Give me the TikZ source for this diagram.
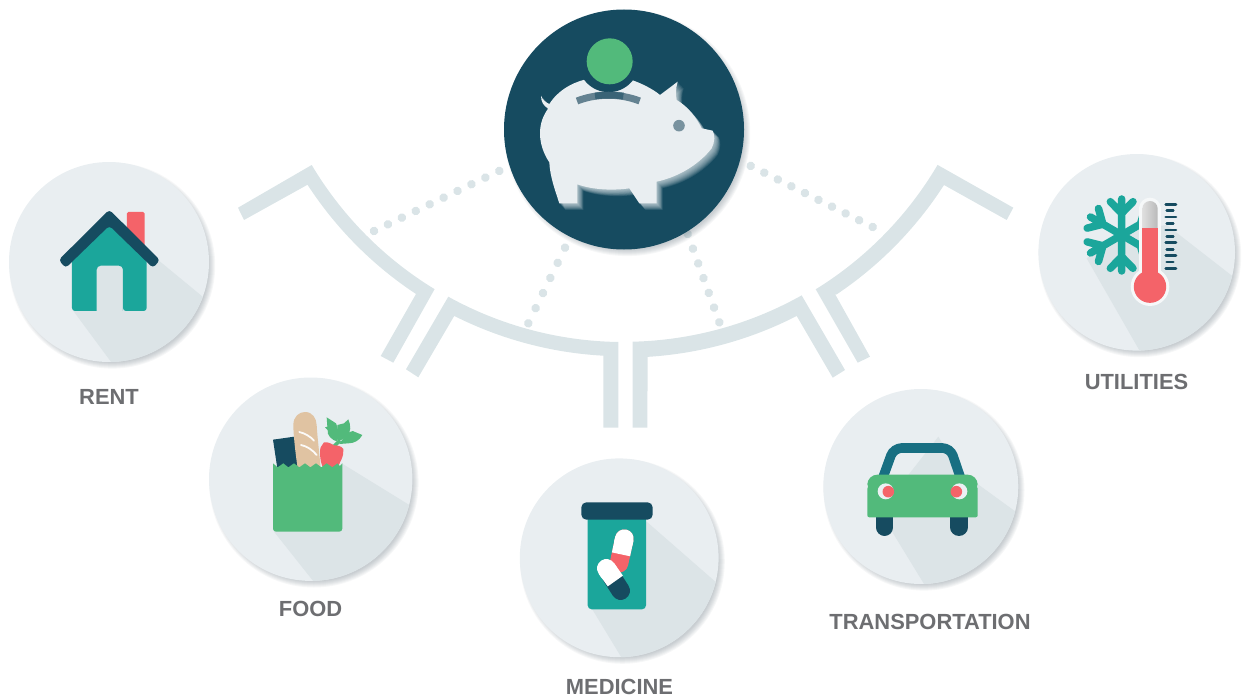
\documentclass[tikz,border=0pt]{standalone}
\usepackage{fontspec}
\setmainfont{Liberation Sans}
\definecolor{navy}{HTML}{164B60}
\definecolor{teal2}{HTML}{1BA69B}
\definecolor{coral}{HTML}{F46369}
\definecolor{leaf}{HTML}{52BA7B}
\definecolor{bread}{HTML}{E0C3A2}
\definecolor{disc}{HTML}{E9EEF1}
\definecolor{longshade}{HTML}{DCE4E7}
\definecolor{bracket}{HTML}{DAE4E7}
\definecolor{carroof}{HTML}{186F82}
\definecolor{labelgray}{HTML}{6D6E71}
\definecolor{shadowcol}{HTML}{5A6A75}
\definecolor{slotcol}{HTML}{648291}
\tikzset{
  disc node/.style={circle,fill=disc,inner sep=0pt,outer sep=0pt,minimum size=#1},
  caption/.style={font=\fontsize{21.9}{24}\selectfont\bfseries,text=labelgray,inner sep=0pt},
  bracket shape/.style={fill=bracket},
  dotline/.style={draw=bracket,line width=8.6pt,line cap=round,dash pattern=on 0.01pt off #1pt},
  zoomed/.style={x=0.33333pt,y=-0.33333pt},
  pig shape/.style={fill=disc}
}
\newcommand{\softshadow}[3]{%
  \foreach \d in {3,2,1,0,-1,-2,-3}{%
    \fill[shadowcol,opacity=.055] (#1+3.2,#2+3.6) circle[radius={(#3+\d)*1pt}];}}
\newcommand{\pigpath}{%
  (145,325) .. controls (130,318) and (123,305) .. (123,287)
  .. controls (128,300) and (138,308) .. (148,312)
  .. controls (175,270) and (215,250) .. (250,240) -- (395,240)
  .. controls (425,250) and (460,268) .. (480,285) -- (533,245)
  .. controls (527,265) and (527,285) .. (530,300)
  .. controls (565,320) and (590,355) .. (605,385) -- (638,392)
  .. controls (645,405) and (645,425) .. (635,445)
  .. controls (600,490) and (540,530) .. (470,545) -- (470,610) -- (418,610) -- (388,565)
  .. controls (340,572) and (280,570) .. (232,553) -- (232,610) -- (178,610)
  .. controls (165,570) and (150,530) .. (148,487)
  .. controls (130,460) and (120,430) .. (120,400)
  .. controls (120,370) and (130,345) .. (145,325) -- cycle}
\begin{document}
\begin{tikzpicture}[x=1pt,y=-1pt]
\useasboundingbox (0,0) rectangle (1242,698);

% brackets
\fill[bracket shape] (238,207.7) -- (311.7,165) arc[start angle=210.78,end angle=238.63,radius=363pt]
  -- (393.3,362.7) -- (380.7,356) -- (416,294) arc[start angle=236.56,end angle=213.04,radius=377.7pt] -- (244,220) -- cycle;
\fill[bracket shape] (406,369.3) -- (448.3,296.7) arc[start angle=241.06,end angle=269.1,radius=363pt]
  -- (618.3,427.7) -- (603.3,427.7) -- (603.3,355.7) arc[start angle=266.85,end angle=243.28,radius=377.7pt] -- (418.3,377.3) -- cycle;
\fill[bracket shape] (632.7,427.7) -- (632.7,341.7) arc[start angle=271.37,end angle=299.3,radius=363pt]
  -- (845,370) -- (832.7,377.7) -- (796.7,316) arc[start angle=297.13,end angle=273.54,radius=378pt] -- (647.3,427.7) -- cycle;
\fill[bracket shape] (870,356.7) -- (857.7,362.7) -- (815.7,289.3) arc[start angle=301.7,end angle=329.46,radius=363pt]
  -- (1013.3,207.7) -- (1006.7,220) -- (944,185) arc[start angle=327.23,end angle=303.8,radius=378pt] -- (835,294) -- cycle;

% dotted links
\coordinate (dota) at (374,231);
\coordinate (dotaend) at (499.5,170.8);
\coordinate (dotb) at (528.3,323.3);
\coordinate (dotbend) at (565.2,247.3);
\coordinate (dotc) at (719.3,322.3);
\coordinate (dotcend) at (687.5,233.5);
\coordinate (dotd) at (872.7,227);
\coordinate (dotdend) at (750.5,165.8);
\draw[dotline=15.43] (dota) -- (dotaend);
\draw[dotline=16.8] (dotb) -- (dotbend);
\draw[dotline=15.63] (dotc) -- (dotcend);
\draw[dotline=15.15] (dotd) -- (dotdend);

% ---------- piggy bank
\softshadow{624}{129.5}{120}
\node[circle,fill=navy,inner sep=0pt,outer sep=0pt,minimum size=240pt] (bank) at (624,129.5) {};
\begin{scope}[zoomed,xshift=500pt]
  \foreach \k in {10,9,8,7,6,5,4,3,2,1}{
    \begin{scope}[xshift=\k*0.6pt,yshift=-\k*0.65pt]
      \fill[disc,opacity=.11] \pigpath;
    \end{scope}}
  \fill[pig shape] \pigpath;
  \fill[navy] (326,185) circle[radius=30.5pt];
  \draw[slotcol,line width=7pt] (231,303) .. controls (290,280) and (360,280) .. (419,303);
  \draw[navy,opacity=.55,line width=7pt] (285,288) .. controls (310,284) and (345,284) .. (370,288);
  \fill[leaf] (329,184) circle[radius=23pt];
  \fill[slotcol!85!disc] (537,377) circle[radius=5.8pt];
\end{scope}

% ---------- rent
\softshadow{109}{262}{100}
\node[disc node=200pt] (rent) at (109,262) {};
\begin{scope}
  \clip (109,262) circle[radius=100pt];
  \begin{scope}[zoomed,yshift=-155pt]
    \fill[longshade] (218,465) -- (340,630) -- (660,630) -- (660,468) -- (478,318) -- (328,200) -- cycle;
  \end{scope}
\end{scope}
\begin{scope}[zoomed,yshift=-155pt]
  \fill[coral,rounded corners=1.5pt] (381,290) -- (381,171) -- (434,171) -- (434,290) -- cycle;
  \fill[teal2,rounded corners=3pt] (216,300) -- (328,195) -- (440,300) -- (440,468) -- (369,468) [sharp corners] -- (369,468) [rounded corners=4pt] -- (369,332) -- (290,332) [sharp corners] -- (290,468) -- (290,468) [rounded corners=3pt] -- (216,468) -- cycle;
  \fill[navy,rounded corners=3.5pt] (176,315) -- (328,164) -- (480,315) -- (459,339) -- (328,212) -- (197,339) -- cycle;
\end{scope}
\node[caption] (rentlabel) at (109,396.5) {RENT};

% ---------- food
\softshadow{310.7}{479.2}{101.7}
\node[disc node=203.4pt] (food) at (310.7,479.2) {};
\begin{scope}
  \clip (310.7,479.2) circle[radius=101.7pt];
  \begin{scope}[zoomed,xshift=200pt,yshift=-370pt]
    \fill[longshade] (222,485) -- (345,640) -- (680,640) -- (680,437) -- (425,280) -- cycle;
  \end{scope}
\end{scope}
\begin{scope}[zoomed,xshift=200pt,yshift=-370pt]
  \fill[navy] (219,209) -- (283,200) -- (300,295) -- (232,295) -- cycle;
  \fill[bread] (293,295) .. controls (285,240) and (280,190) .. (280,165) .. controls (280,140) and (297,126) .. (315,126)
     .. controls (338,126) and (349,145) .. (350,165) .. controls (352,200) and (358,250) .. (362,295) -- cycle;
  \draw[white!92!bread,line width=1.8pt,line cap=round] (298,186) .. controls (315,190) and (332,200) .. (342,212);
  \draw[white!92!bread,line width=1.8pt,line cap=round] (303,225) .. controls (320,228) and (338,240) .. (350,255);
  \draw[leaf,line width=3.5pt] (395,235) -- (420,212);
  \fill[leaf] (380,142) -- (408,160) .. controls (415,175) and (418,190) .. (412,215) .. controls (395,210) and (380,195) .. (383,180) -- (375,172) -- (382,170) -- cycle;
  \fill[leaf] (412,165) -- (432,160) -- (445,148) .. controls (452,165) and (455,185) .. (440,200) -- (415,215) -- cycle;
  \fill[leaf] (440,190) -- (458,183) -- (487,195) .. controls (478,212) and (462,220) .. (445,220) -- (418,222) -- cycle;
  \fill[coral] (372,217) .. controls (385,215) and (395,222) .. (402,226) .. controls (412,226) and (425,228) .. (430,237)
     .. controls (433,255) and (420,280) .. (410,295) -- (370,295) .. controls (362,280) and (357,250) .. (362,232) -- cycle;
  \fill[leaf] (219,280) -- (233,292) -- (250,280) -- (265,292) -- (282,280) -- (298,292) -- (315,280) -- (331,292) -- (348,280) -- (364,292) -- (380,280) -- (397,292) -- (412,280) -- (420,288) -- (427,280)
     [rounded corners=3pt] -- (427,485) -- (219,485) [sharp corners] -- cycle;
\end{scope}
\node[caption] (foodlabel) at (310.5,608.5) {FOOD};

% ---------- medicine
\softshadow{619.2}{557.8}{99.4}
\node[disc node=198.8pt] (medicine) at (619.2,557.8) {};
\begin{scope}
  \clip (619.2,557.8) circle[radius=99.4pt];
  \begin{scope}[zoomed,xshift=510pt,yshift=-450pt]
    \fill[longshade] (245,475) -- (345,640) -- (680,640) -- (680,451) -- (410,215) -- cycle;
  \end{scope}
\end{scope}
\begin{scope}[zoomed,xshift=510pt,yshift=-450pt]
  \fill[teal2,rounded corners=4pt] (233,190) rectangle (408,478);
  \fill[navy,rounded corners=5pt] (214,157) rectangle (428,209);
  \draw[coral,line width=18.6pt,line cap=round] (343,266) -- (327,340);
  \draw[white,line width=18.6pt] (343,266) -- (333,313);
  \draw[white,line width=18.6pt,line cap=round] (343,266) -- (340,280);
  \draw[navy,line width=18.6pt,line cap=round] (332,422) -- (305,380);
  \draw[white,line width=18.6pt] (289,355) -- (316,393);
  \draw[white,line width=18.6pt,line cap=round] (289,355) -- (297,367);
\end{scope}
\node[caption] (medicinelabel) at (619.5,686.5) {MEDICINE};

% ---------- transportation
\softshadow{920.8}{486.5}{97.5}
\node[disc node=195pt] (transport) at (920.8,486.5) {};
\begin{scope}
  \clip (920.8,486.5) circle[radius=97.5pt];
  \begin{scope}[zoomed,xshift=815pt,yshift=-380pt]
    \fill[longshade] (222,440) -- (335,625) -- (650,625) -- (650,430) -- (485,310) -- (440,285) -- (370,170) -- (280,285) -- cycle;
  \end{scope}
\end{scope}
\begin{scope}[zoomed,xshift=815pt,yshift=-380pt]
  \draw[carroof,line width=9.6pt,rounded corners=8pt] (204,292) -- (236,204) -- (406,204) -- (436,292);
  \draw[navy,line width=17.3pt,line cap=round] (209,400) -- (209,442);
  \draw[navy,line width=17.3pt,line cap=round] (432,400) -- (432,442);
  \fill[leaf,rounded corners=10pt] (157,340) -- (157,284) -- (488,284) -- (488,340) -- cycle;
  \fill[leaf,rounded corners=2pt] (157,320) rectangle (488,412);
  \fill[disc!90!white] (212,334) circle[radius=8pt];
  \fill[disc!90!white] (433,334) circle[radius=8pt];
  \fill[coral] (220,335) circle[radius=5.8pt];
  \fill[coral] (424,335) circle[radius=5.8pt];
\end{scope}
\node[caption] (transportlabel) at (930,621.5) {TRANSPORTATION};

% ---------- utilities
\softshadow{1136.7}{252.3}{98.3}
\node[disc node=196.6pt] (utilities) at (1136.7,252.3) {};
\begin{scope}
  \clip (1136.7,252.3) circle[radius=98.3pt];
  \begin{scope}[zoomed,xshift=1030pt,yshift=-145pt]
    \fill[longshade] (170,340) -- (335,628) -- (680,628) -- (680,450) -- (410,240) -- (270,260) -- cycle;
  \end{scope}
\end{scope}
\begin{scope}[zoomed,xshift=1030pt,yshift=-145pt]
  \foreach \a in {0,60,120,180,240,300}{
    \begin{scope}[shift={(275,270)},rotate=\a]
      \draw[teal2,line width=7.5pt,line cap=round,line join=round] (0,0) -- (0,-108) (0,-65) -- (-34,-100) (0,-65) -- (34,-100);
    \end{scope}}
  \draw[white!60!disc,line width=21.3pt,line cap=round] (360,190) -- (360,425);
  \fill[white!60!disc] (360,425) circle[radius=19.3pt];
  \shade[left color=gray!25,right color=gray!55] (337,250) -- (337,191) arc[start angle=180,end angle=0,radius=7.67pt] -- (383,250) -- cycle;
  \fill[coral] (337,250) rectangle (383,400);
  \fill[coral] (360,425) circle[radius=16.2pt];
  \foreach \y in {178,216,255,293,332,371}{
    \draw[navy,line width=2.5pt,line cap=round] (407,\y) -- (438,\y);}
  \foreach \y in {197,236,274,313,351}{
    \draw[navy,line width=2.5pt,line cap=round] (410,\y) -- (430,\y);}
\end{scope}
\node[caption] (utilitieslabel) at (1136.5,381.5) {UTILITIES};
\end{tikzpicture}
\end{document}
